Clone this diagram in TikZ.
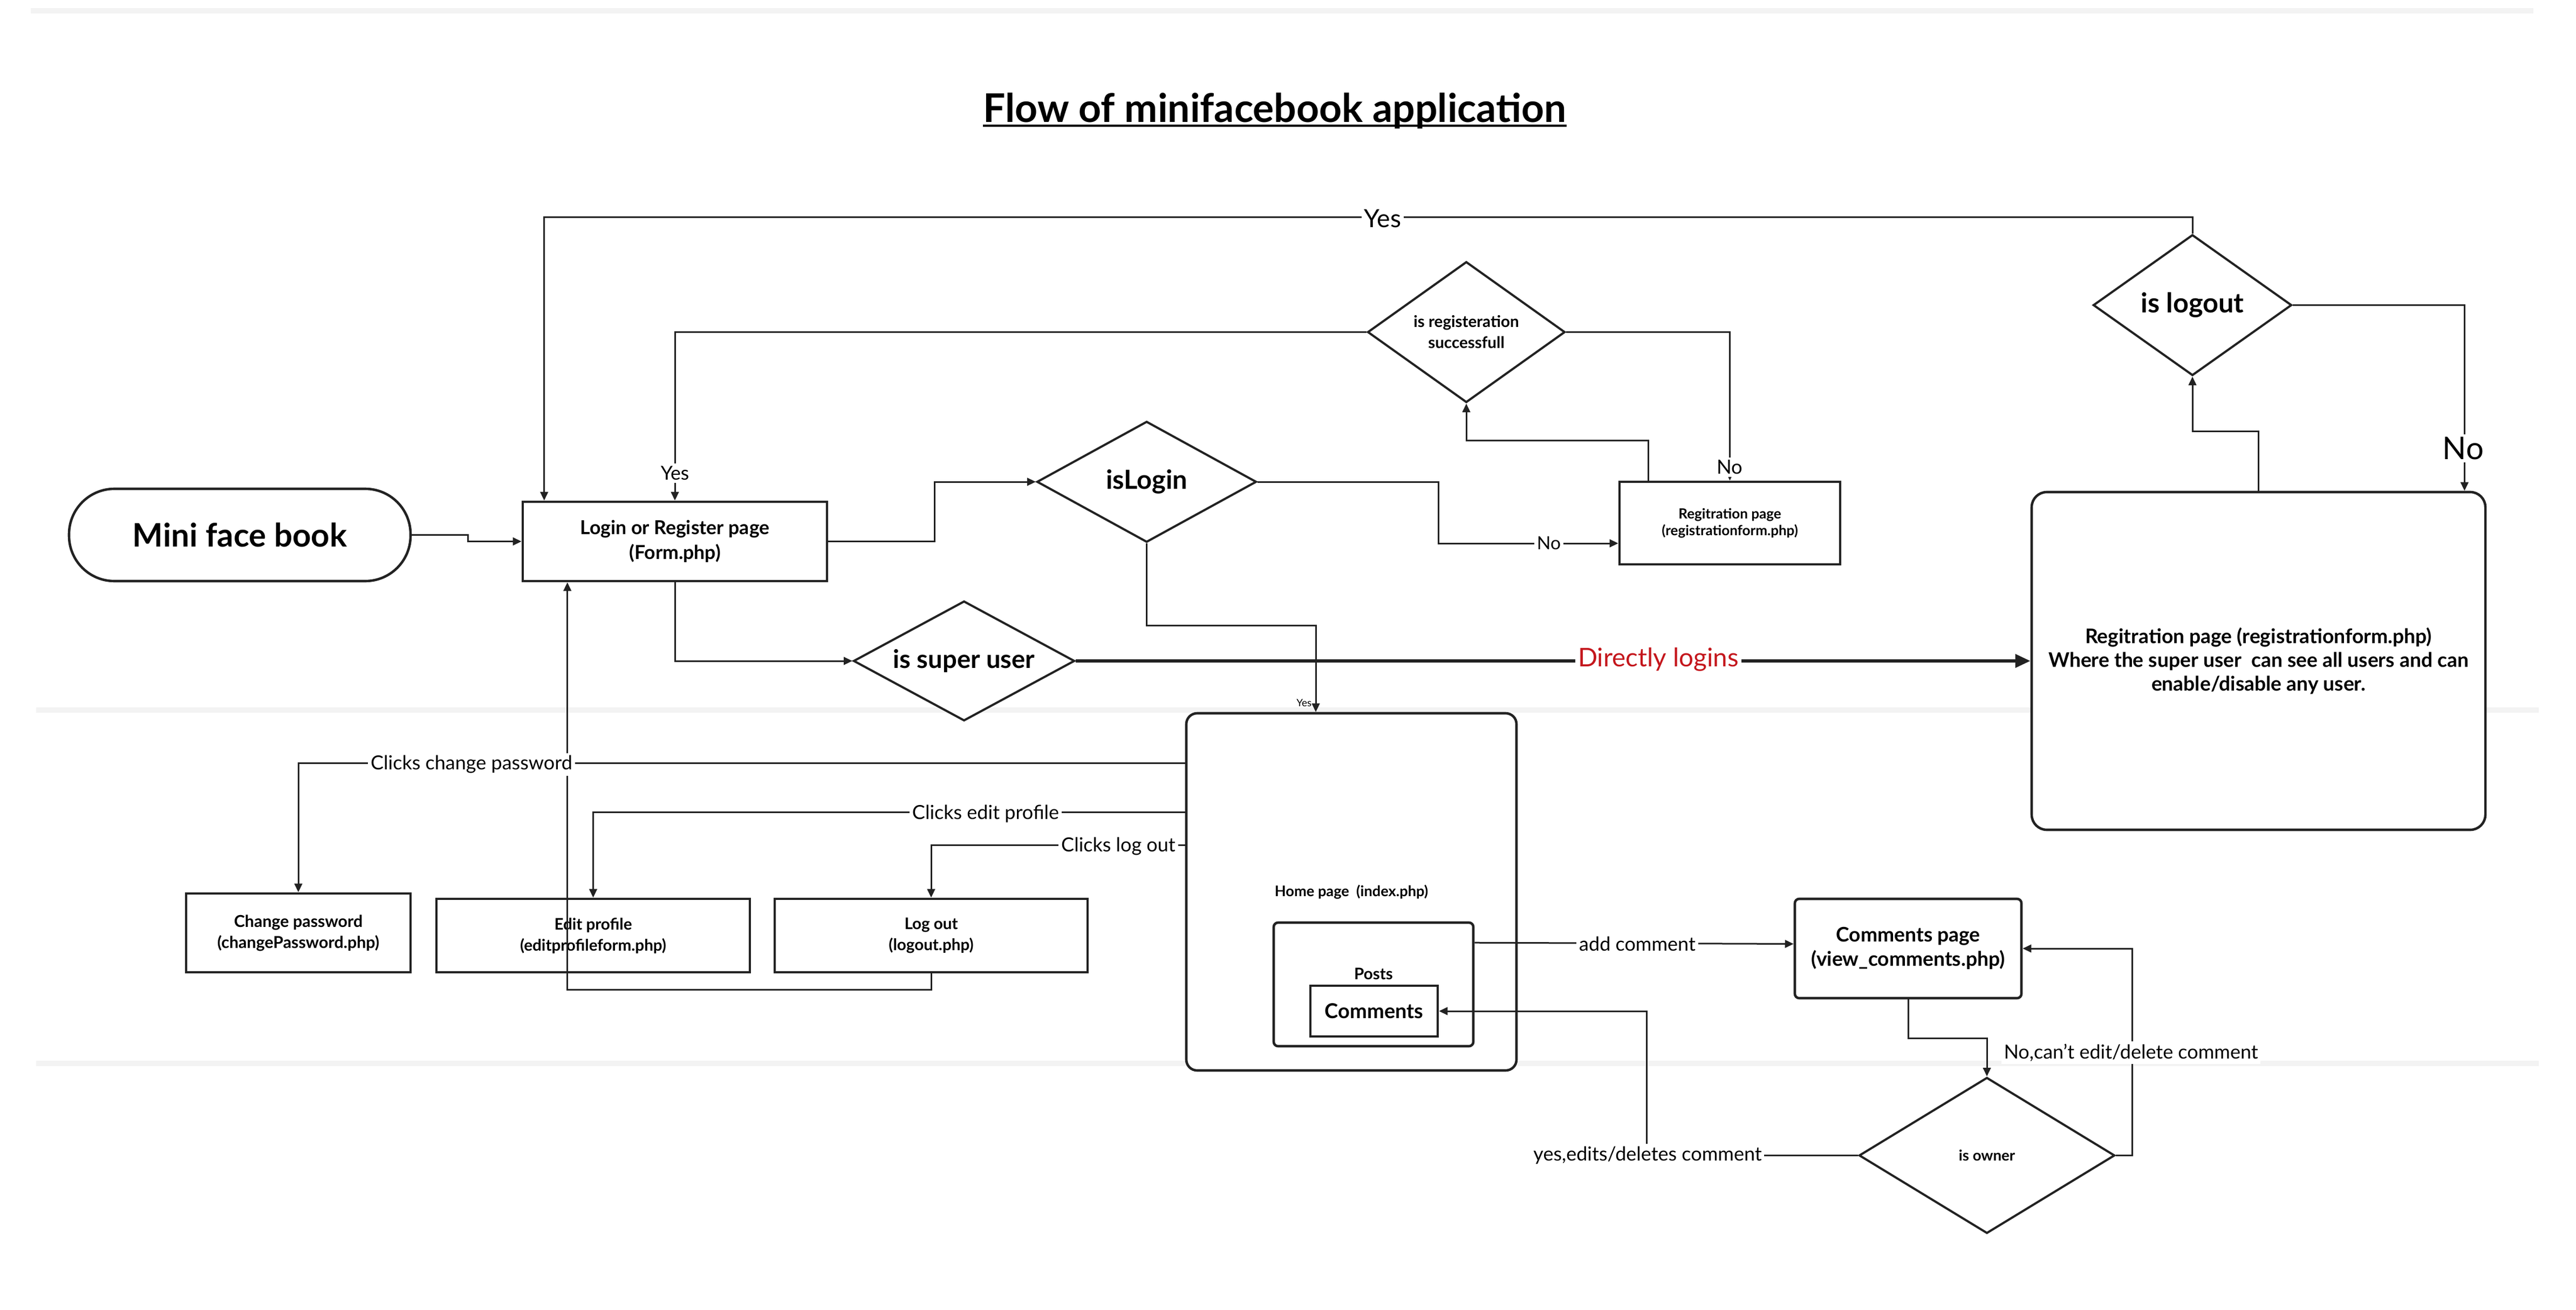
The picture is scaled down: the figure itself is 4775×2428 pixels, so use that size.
\documentclass[tikz,border=0pt]{standalone}
\usepackage{fontspec}
\setmainfont{Lato}
\usetikzlibrary{shapes.geometric,arrows.meta,calc}
\definecolor{linec}{HTML}{222222}
\definecolor{sepc}{HTML}{F3F3F3}
\definecolor{redc}{HTML}{C4161C}
\newcommand{\fsz}[2]{\fontsize{#1}{#2}\selectfont}
\begin{document}
\begin{tikzpicture}[x=0.25pt,y=-0.25pt,
  box/.style={draw=linec, line width=1.15pt, fill=white, inner sep=0pt, align=center, font=\bfseries},
  dia/.style={diamond, draw=linec, line width=1pt, fill=white, inner sep=0pt, align=center, font=\bfseries},
  conn/.style={draw=linec, line width=0.75pt, -{Triangle[length=4pt,width=3.6pt]}},
  dl/.style={draw=linec, line width=1.6pt, -{Triangle[length=7pt,width=6pt]}},
  lbl/.style={fill=white, inner sep=1.2pt, text=black},
  sepline/.style={draw=sepc, line width=2.6pt}]
\useasboundingbox[fill=white] (0,0) rectangle (4775,2428);
% page separators
\draw[sepline] (57,20) -- (4696,20);
\draw[sepline] (67,1316) -- (4706,1316);
\draw[sepline] (67,1971) -- (4706,1971);
% title
\node[anchor=base, inner sep=0pt, font=\bfseries\fsz{18.3}{21}] (title) at (2363,227) {Flow of minifacebook application};
\draw[line width=1pt] ([yshift=-1.5pt]title.base west) -- ([yshift=-1.5pt]title.base east);
% nodes
\node[box, rounded corners=21pt, minimum width=158.25pt, minimum height=42.75pt, font=\bfseries\fsz{15}{18}] (start) at (444.5,991.5) {Mini face book};
\node[box, minimum width=141pt, minimum height=36.75pt, font=\bfseries\fsz{8.9}{11.5}] (login) at (1251,1003.5) {Login or Register page\\(Form.php)};
\node[dia, minimum width=101.75pt, minimum height=56pt, shape aspect=1.82, font=\bfseries\fsz{12.2}{14}] (islogin) at (2125.5,893) {isLogin};
\node[dia, minimum width=91.5pt, minimum height=65.25pt, shape aspect=1.4, font=\bfseries\fsz{7.4}{9.75}] (isreg) at (2718,615.5) {is registeration\\successfull};
\node[box, minimum width=102.25pt, minimum height=38.25pt, font=\bfseries\fsz{6.5}{7.6}] (regsmall) at (3206.5,969.5) {Regitration page\\(registrationform.php)};
\node[dia, minimum width=102.5pt, minimum height=55.5pt, shape aspect=1.85, font=\bfseries\fsz{11.8}{13.5}] (super) at (1787,1225) {is super user};
\node[dia, minimum width=92pt, minimum height=65.25pt, shape aspect=1.41, font=\bfseries\fsz{12.6}{14.5}] (islogout) at (4064,565.5) {is logout};
\node[box, rounded corners=7pt, minimum width=210.25pt, minimum height=156.5pt, font=\bfseries\fsz{9.3}{11.1}] (regbig) at (4186.5,1225) {Regitration page (registrationform.php)\\Where the super user~ can see all users and can\\enable/disable any user.};
\node[box, rounded corners=5pt, minimum width=153pt, minimum height=165.5pt, font=\bfseries\fsz{6.8}{8}] (home) at (2505,1653) {Home page~ (index.php)};
\node[box, rounded corners=2pt, minimum width=92.5pt, minimum height=57.25pt] (posts) at (2546,1824.5) {};
\node[inner sep=0pt, font=\bfseries\fsz{7.4}{8.5}] (poststxt) at (2546,1805) {Posts};
\node[box, minimum width=59pt, minimum height=23.5pt, font=\bfseries\fsz{9.5}{11}] (comments) at (2547,1874) {Comments};
\node[box, minimum width=104pt, minimum height=36.5pt, font=\bfseries\fsz{7.6}{9.75}] (chpw) at (553,1729) {Change password\\(changePassword.php)};
\node[box, minimum width=145.25pt, minimum height=34pt, font=\bfseries\fsz{7.4}{9.75}] (edit) at (1099.5,1734) {Edit profile\\(editprofileform.php)};
\node[box, minimum width=145pt, minimum height=34pt, font=\bfseries\fsz{7.4}{9.75}] (logout) at (1726,1734) {Log out\\(logout.php)};
\node[box, rounded corners=2pt, minimum width=105pt, minimum height=46pt, font=\bfseries\fsz{9.3}{11.25}] (cpage) at (3537,1758) {Comments page\\(view\_comments.php)};
\node[dia, minimum width=118.5pt, minimum height=72.25pt, shape aspect=1.64, font=\bfseries\fsz{6.9}{8}] (owner) at (3683,2141.5) {is owner};
% connectors
\draw[conn] (start.east) -- ++(104,0) |- (login.west);
\draw[conn] (login.east) -- ++(197,0) |- (islogin.west);
\draw[conn] (login.south) |- (super.west);
\draw[conn] (islogin.east) -- ++(335,0) |- ($(regsmall.west)+(0,37.5)$);
\draw[conn] (isreg.west) -| (login.north);
\draw[conn] (isreg.east) -| (regsmall.north);
\draw[conn] ($(regsmall.north west)+(56,0)$) -- ++(0,-74) -| (isreg.south);
\draw[dl] (super.east) -- (regbig.west);
\draw[conn] (islogin.south) -- ++(0,152) -| ($(home.north)+(-66,0)$);
\draw[conn] (islogout.north) -- ++(0,-30) -| ($(login.north west)+(42,0)$);
\draw[conn] (islogout.east) -| ($(regbig.north east)+(-41,0)$);
\draw[conn] (regbig.north) -- ++(0,-110) -| (islogout.south);
\draw[conn] (logout.south) -- ++(0,30) -| ($(login.south west)+(85,0)$);
\draw[conn] ($(home.north west)+(0,95)$) -| (chpw.north);
\draw[conn] ($(home.north west)+(0,186)$) -| (edit.north);
\draw[conn] ($(home.north west)+(0,247)$) -| (logout.north);
\draw[conn] ($(posts.north east)+(0,39.5)$) -- ($(cpage.west)+(0,-8.5)$);
\draw[conn] (owner.west) -- ++(-392,0) |- (comments.east);
\draw[conn] (cpage.south) -- ++(0,72) -| (owner.north);
\draw[conn] (owner.east) -- ++(30,0) |- (cpage.east);
% labels
\node[lbl, font=\fsz{11.6}{13}] (lyes1) at (2563,405) {Yes};
\node[lbl, font=\fsz{8.9}{10}] (lyes2) at (1251,877) {Yes};
\node[lbl, font=\fsz{9.1}{10}] (lno1) at (3206,866) {No};
\node[lbl, font=\fsz{8.4}{10}] (lno2) at (2871,1007) {No};
\node[lbl, font=\fsz{14.5}{16}] (lno3) at (4566,831) {No};
\node[lbl, text=redc, font=\fsz{11.9}{13}] (ldirect) at (3074,1222) {Directly logins};
\node[inner sep=0.5pt, font=\fsz{4.7}{5}, anchor=east] (lyes3) at (2434,1303) {Yes};
\node[lbl, font=\fsz{9}{11}] (lchpw) at (874,1417) {Clicks change password};
\node[lbl, font=\fsz{9}{11}] (ledit) at (1827,1508) {Clicks edit profile};
\node[lbl, font=\fsz{9}{11}] (llogout) at (2073,1569) {Clicks log out};
\node[lbl, font=\fsz{9}{10}] (ladd) at (3035,1749.5) {add comment};
\node[lbl, font=\fsz{9}{10}] (lyesedit) at (3054,2141.5) {yes,edits/deletes comment};
\node[lbl, font=\fsz{9}{10}] (lnocant) at (3950,1951) {No,can't edit/delete comment};
\end{tikzpicture}
\end{document}
